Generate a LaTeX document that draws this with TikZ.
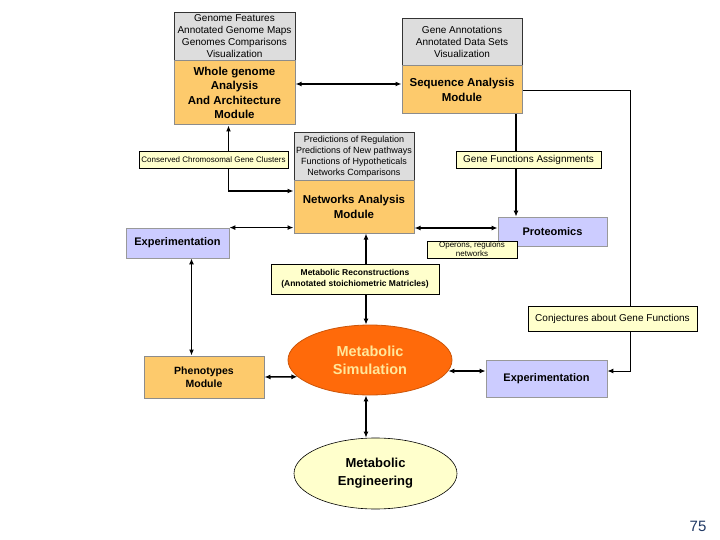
\documentclass[tikz,border=0pt]{standalone}
\usepackage{fontspec}
\setmainfont{Liberation Sans}
\usetikzlibrary{arrows.meta,shapes.geometric,backgrounds}
\definecolor{modorange}{HTML}{FDCA6C}
\definecolor{infogray}{HTML}{DDDDDD}
\definecolor{lav}{HTML}{CCCCFF}
\definecolor{note}{HTML}{FFFFCC}
\definecolor{simorange}{HTML}{FF6A0A}
\definecolor{simtext}{HTML}{FFE79A}
\definecolor{pagenum}{HTML}{1F3864}
\tikzset{
  box/.style={rectangle, inner sep=0pt, align=center},
  infobox/.style={box, fill=infogray, draw=black!80, line width=0.6pt,
    font=\fontsize{10}{12}\selectfont},
  modbox/.style={box, fill=modorange, draw=black!45, line width=1pt,
    font=\bfseries\fontsize{11.5}{14.5}\selectfont},
  lavbox/.style={box, fill=lav, draw=black!40, line width=0.8pt,
    font=\bfseries\fontsize{11}{13}\selectfont},
  notebox/.style={box, fill=note, draw=black, line width=0.6pt,
    font=\fontsize{10}{12}\selectfont},
  conn/.style={line width=1.5pt, black},
  biarrow/.style={conn, {Latex[length=6pt,width=5pt]}-{Latex[length=6pt,width=5pt]}},
  onearrow/.style={conn, -{Latex[length=6pt,width=5pt]}},
}
\begin{document}
\begin{tikzpicture}[x=1pt,y=-1pt]
\useasboundingbox (0,0) rectangle (720,540);
% top-left
\node[infobox, minimum width=121, minimum height=49] (WGg) at (234.5,36.5)
  {Genome Features\\Annotated Genome Maps\\Genomes Comparisons\\Visualization};
\node[modbox, minimum width=121, minimum height=64] (WG) at (234.5,93)
  {Whole genome\\Analysis\\And Architecture\\Module};
% top-right
\node[infobox, minimum width=120, minimum height=48] (SAg) at (462,42)
  {Gene Annotations\\Annotated Data Sets\\Visualization};
\node[modbox, minimum width=120, minimum height=48] (SA) at (462,90)
  {Sequence Analysis\\Module};
% networks
\node[infobox, minimum width=120, minimum height=49, font=\fontsize{9}{11}\selectfont] (NAg) at (354,156.5)
  {Predictions of Regulation\\Predictions of New pathways\\Functions of Hypotheticals\\Networks Comparisons};
\node[modbox, minimum width=120, minimum height=52] (NA) at (354,207)
  {Networks Analysis\\Module};
% notes
\node[notebox, minimum width=149, minimum height=17, font=\fontsize{8}{10}\selectfont] (CC) at (213.5,159.5)
  {Conserved Chromosomal Gene Clusters};
\node[notebox, minimum width=145, minimum height=17] (GF) at (528.5,159.5)
  {Gene Functions Assignments};
\node[lavbox, minimum width=109, minimum height=29] (PR) at (552.5,231.5) {Proteomics};
\node[notebox, minimum width=90, minimum height=17, font=\fontsize{8}{9}\selectfont] (OP) at (472,249.5)
  {Operons, regulons\\networks};
\node[lavbox, minimum width=103, minimum height=30] (EXL) at (177.5,243) {Experimentation};
\node[notebox, minimum width=168, minimum height=30, font=\bfseries\fontsize{8.5}{11}\selectfont] (MR) at (355,279)
  {Metabolic Reconstructions\\(Annotated stoichiometric Matricles)};
\node[notebox, minimum width=169, minimum height=25] (CJ) at (612.5,318.5)
  {Conjectures about Gene Functions};
\node[modbox, minimum width=120, minimum height=42, font=\bfseries\fontsize{10.5}{13}\selectfont] (PH) at (204,377)
  {Phenotypes\\Module};
\node[ellipse, fill=simorange, draw=simorange!80!black, line width=0.8pt, inner sep=0pt,
  minimum width=164, minimum height=70, text=simtext, align=center,
  font=\bfseries\fontsize{14.5}{18}\selectfont] (MS) at (370,360) {Metabolic\\Simulation};
\node[lavbox, minimum width=121, minimum height=37] (EXR) at (546.5,378.5) {Experimentation};
\node[ellipse, fill=note, draw=black, line width=0.6pt, inner sep=0pt,
  minimum width=163, minimum height=71, align=center,
  font=\bfseries\fontsize{13}{18}\selectfont] (ME) at (375.5,473.5) {Metabolic\\Engineering};
\node[text=pagenum, font=\fontsize{15}{18}\selectfont] (PN) at (698,526) {75};
% connectors
\begin{pgfonlayer}{background}
\draw[biarrow] (WG.east |- 0,84) -- (SA.west |- 0,84);
\coordinate (corner) at (630,91);
\draw[conn, line width=1pt, -{Latex[length=6pt,width=5pt]}] (SA.east |- corner) -- (corner) |- (EXR.east |- 0,371);
\draw[onearrow] ([xshift=54pt]SA.south) -- ([xshift=54pt]SA.south |- PR.north);
\draw[biarrow] (NA.east |- 0,228) -- (PR.west |- 0,228);
\draw[biarrow] ([xshift=-6pt]WG.south) |- (NA.west |- 0,191);
\draw[biarrow] (EXL.north east) -- (NA.west |- EXL.north east);
\draw[biarrow] ([xshift=14pt]EXL.south) -- ([xshift=14pt]EXL.south |- PH.north);
\draw[biarrow] ([xshift=-4pt]MS.north |- NA.south) -- ([xshift=-4pt]MS.north);
\draw[biarrow] (PH.east) -- (MS.193);
\draw[biarrow] (MS.352) -- (MS.352 -| EXR.west);
\draw[biarrow] ([xshift=-4pt]MS.south) -- ([xshift=-4pt]MS.south |- ME.north);
\end{pgfonlayer}
\end{tikzpicture}
\end{document}
